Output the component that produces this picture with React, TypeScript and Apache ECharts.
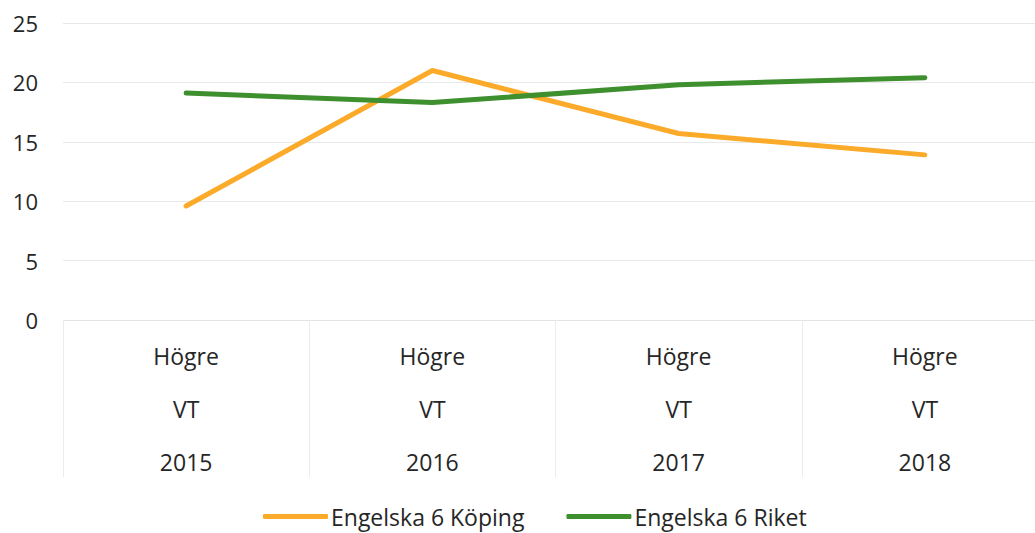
import React, { useEffect, useRef } from "react";
import * as echarts from "echarts";

const categories = ["Högre\nVT\n2015", "Högre\nVT\n2016", "Högre\nVT\n2017", "Högre\nVT\n2018"];
const koping = [9.6, 21.0, 15.7, 13.9];
const riket = [19.1, 18.3, 19.8, 20.4];
const seriesNames = ["Engelska 6 Köping", "Engelska 6 Riket"];

const FONT = "'Open Sans', sans-serif";

export default function App() {
  const ref = useRef<HTMLDivElement>(null);
  useEffect(() => {
    if (!ref.current) return;
    const chart = echarts.init(ref.current, null, { renderer: "svg" });
    chart.setOption({
      animation: false,
      backgroundColor: "#ffffff",
      grid: { left: 63, right: 0, top: 23, bottom: 213, containLabel: false },
      legend: {
        bottom: 0,
        left: 258,
        itemWidth: 65,
        itemHeight: 5,
        itemGap: 42,
        icon: "roundRect",
        textStyle: { fontFamily: FONT, fontSize: 23, color: "#262626", padding: [0, 0, 0, -2] },
        data: seriesNames,
      },
      xAxis: {
        type: "category",
        data: categories,
        boundaryGap: true,
        axisLine: { show: true, lineStyle: { color: "#e3e3e3", width: 1 } },
        axisTick: { show: true, interval: 0, length: 157, lineStyle: { color: "#ececec", width: 1 } },
        axisLabel: {
          interval: 0,
          margin: 9,
          fontFamily: FONT,
          fontSize: 23,
          color: "#262626",
          lineHeight: 53,
        },
        splitLine: { show: false },
      },
      yAxis: {
        type: "value",
        min: 0,
        max: 25,
        interval: 5,
        axisLine: { show: false },
        axisTick: { show: false },
        axisLabel: { margin: 25, fontFamily: FONT, fontSize: 22, color: "#262626" },
        splitLine: { lineStyle: { color: "#e8e8e8", width: 1 } },
      },
      series: [
        {
          name: seriesNames[0],
          type: "line",
          data: koping,
          symbol: "none",
          lineStyle: { color: "#FBAA2A", width: 5, cap: "round", join: "round" },
          itemStyle: { color: "#FBAA2A" },
        },
        {
          name: seriesNames[1],
          type: "line",
          data: riket,
          symbol: "none",
          lineStyle: { color: "#3E8F2E", width: 5, cap: "round", join: "round" },
          itemStyle: { color: "#3E8F2E" },
        },
      ],
    });
    return () => chart.dispose();
  }, []);
  return (
    <div style={{ position: "absolute", left: 0, top: 0, width: 1035, height: 533, overflow: "hidden" }}>
      <div ref={ref} style={{ position: "absolute", left: 0, top: 0, width: 1048, height: 533 }} />
    </div>
  );
}
